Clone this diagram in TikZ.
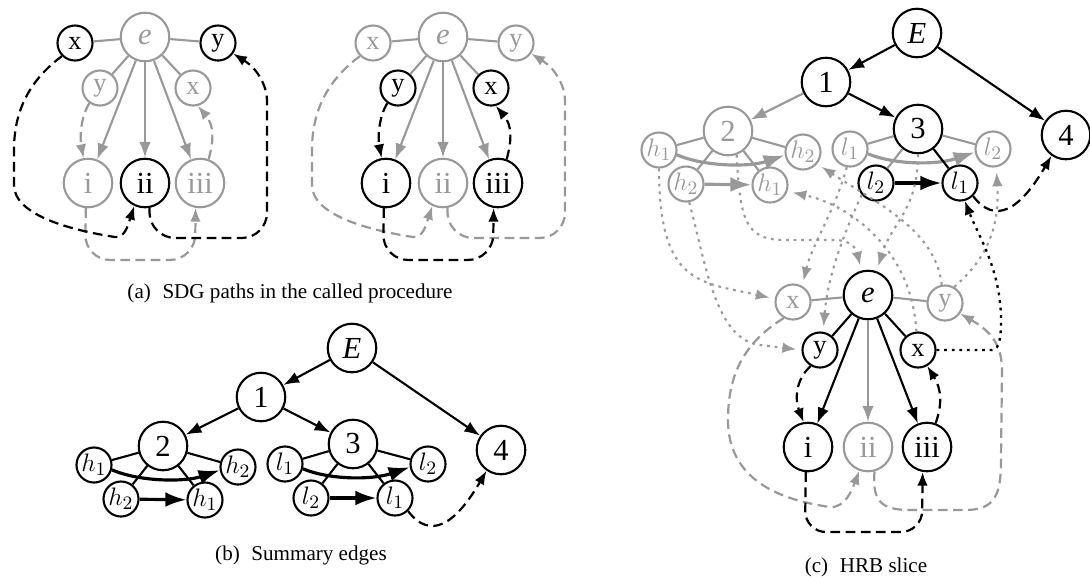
\documentclass[tikz,border=0pt]{standalone}
\usepackage{fontspec}
\setmainfont{Liberation Serif}
\usetikzlibrary{arrows.meta}
\definecolor{dimmed}{gray}{0.6}

\begin{document}
\begin{tikzpicture}[x=0.474pt, y=-0.474pt,
		bignode/.style={circle, draw, line width=1pt, minimum size=23pt, inner sep=0pt, font=\fontsize{14.5}{16}\selectfont},
		smallnode/.style={circle, draw, line width=1pt, minimum size=16.6pt, inner sep=0pt, font=\fontsize{12.5}{14}\selectfont},
		faded/.style={draw=dimmed, text=dimmed},
		depedge/.style={line width=1pt, -{Latex[length=7.5pt, width=5.5pt]}},
		tie/.style={line width=1pt},
		summary/.style={line width=1.5pt, -{Latex[length=10pt, width=7pt]}},
		flowedge/.style={line width=1.05pt, dash pattern=on 4.6pt off 2.6pt, -{Latex[length=6.5pt, width=5pt]}},
		paramedge/.style={line width=1pt, dash pattern=on 1.3pt off 2.3pt, shorten >=2.5pt, -{Latex[length=6.5pt, width=5pt]}},
		capt/.style={font=\normalsize}]

		\useasboundingbox (0,0) rectangle (1090,577);

		% (a) left copy
		\node[bignode, faded] (eL) at (145,37) {\textit{e}};
		\node[smallnode] (xinL) at (75,43) {x};
		\node[smallnode] (youtL) at (218,43) {y};
		\node[smallnode, faded] (yinL) at (100,88) {y};
		\node[smallnode, faded] (xoutL) at (193,88) {x};
		\node[bignode, faded] (iL) at (88,183) {i};
		\node[bignode] (iiL) at (145,183) {ii};
		\node[bignode, faded] (iiiL) at (200,183) {iii};

		\foreach \n in {xinL, youtL, yinL, xoutL}
		\draw[tie, dimmed] (eL) -- (\n);
		\foreach \n in {iL, iiL, iiiL}
		\draw[depedge, dimmed] (eL) -- (\n);

		\draw[flowedge, dimmed] (yinL.235) .. controls (80,118) and (80,140) .. (iL.100);
		\draw[flowedge, dimmed] (iiiL.70) .. controls (214,140) and (214,125) .. (xoutL.-75);
		\draw[flowedge, dimmed, rounded corners=12] (iL.-95) -- (85,260) -- (195,260) -- (iiiL.-100);
		\draw[flowedge] (xinL.225) .. controls (30,80) and (14,110) .. (14,150) -- (14,185) .. controls (14,215) and (70,230) .. (115,237) .. controls (125,238) and (128,225) .. (iiL.245);
		\draw[flowedge, rounded corners=12] (iiL.-80) -- (150,238) -- (267,238) -- (267,75) -- (youtL.-35);

		% (a) right copy
		\begin{scope}[shift={(298,0)}]
			\node[bignode, faded] (eR) at (145,37) {\textit{e}};
			\node[smallnode, faded] (xinR) at (75,43) {x};
			\node[smallnode, faded] (youtR) at (218,43) {y};
			\node[smallnode] (yinR) at (100,88) {y};
			\node[smallnode] (xoutR) at (193,88) {x};
			\node[bignode] (iR) at (88,183) {i};
			\node[bignode, faded] (iiR) at (145,183) {ii};
			\node[bignode] (iiiR) at (200,183) {iii};

			\foreach \n in {xinR, youtR, yinR, xoutR}
			\draw[tie, dimmed] (eR) -- (\n);
			\foreach \n in {iR, iiR, iiiR}
			\draw[depedge, dimmed] (eR) -- (\n);

			\draw[flowedge, dimmed] (xinR.225) .. controls (30,80) and (14,110) .. (14,150) -- (14,185) .. controls (14,215) and (70,230) .. (115,237) .. controls (125,238) and (128,225) .. (iiR.245);
			\draw[flowedge, dimmed, rounded corners=12] (iiR.-80) -- (150,238) -- (267,238) -- (267,75) -- (youtR.-35);
			\draw[flowedge] (yinR.235) .. controls (80,118) and (80,140) .. (iR.100);
			\draw[flowedge] (iiiR.70) .. controls (214,140) and (214,125) .. (xoutR.-75);
			\draw[flowedge, rounded corners=12] (iR.-95) -- (85,260) -- (195,260) -- (iiiR.-100);
		\end{scope}

		% (b)
		\node[bignode] (Eb) at (352,348) {\textit{E}};
		\node[bignode] (n1b) at (261,397) {1};
		\node[bignode] (n2b) at (163,446) {2};
		\node[bignode] (n3b) at (353,444) {3};
		\node[bignode] (n4b) at (501,450) {4};
		\node[smallnode] (h1ib) at (94,465) {$h_1$};
		\node[smallnode] (h2ob) at (238,467) {$h_2$};
		\node[smallnode] (h2ib) at (121,499) {$h_2$};
		\node[smallnode] (h1ob) at (205,500) {$h_1$};
		\node[smallnode] (l1ib) at (285,464) {$l_1$};
		\node[smallnode] (l2ob) at (428,464) {$l_2$};
		\node[smallnode] (l2ib) at (311,498) {$l_2$};
		\node[smallnode] (l1ob) at (395,498) {$l_1$};

		\draw[depedge] (Eb) -- (n1b);
		\draw[depedge] (Eb) -- (n4b);
		\draw[depedge] (n1b) -- (n2b);
		\draw[depedge] (n1b) -- (n3b);
		\foreach \n in {h1ib, h2ob, h2ib, h1ob}
		\draw[tie] (n2b) -- (\n);
		\foreach \n in {l1ib, l2ob, l2ib, l1ob}
		\draw[tie] (n3b) -- (\n);
		\draw[summary] (h1ib.-15) .. controls (140,482) and (185,482) .. (h2ob.190);
		\draw[summary] (h2ib) -- (h1ob);
		\draw[summary] (l1ib.-15) .. controls (330,480) and (372,480) .. (l2ob.190);
		\draw[summary] (l2ib) -- (l1ob);
		\draw[flowedge] (l1ob.-45) .. controls (430,540) and (455,525) .. (n4b.235);

		% (c) upper part
		\begin{scope}[shift={(565,-315)}]
			\node[bignode] (Ec) at (352,348) {\textit{E}};
			\node[bignode] (n1c) at (261,397) {1};
			\node[bignode, faded] (n2c) at (163,446) {2};
			\node[bignode] (n3c) at (353,444) {3};
			\node[bignode] (n4c) at (501,450) {4};
			\node[smallnode, faded] (h1ic) at (94,465) {$h_1$};
			\node[smallnode, faded] (h2oc) at (238,467) {$h_2$};
			\node[smallnode, faded] (h2ic) at (121,499) {$h_2$};
			\node[smallnode, faded] (h1oc) at (205,500) {$h_1$};
			\node[smallnode, faded] (l1ic) at (285,464) {$l_1$};
			\node[smallnode, faded] (l2oc) at (428,464) {$l_2$};
			\node[smallnode] (l2ic) at (311,498) {$l_2$};
			\node[smallnode] (l1oc) at (395,498) {$l_1$};

			\draw[depedge, dimmed] (n1c) -- (n2c);
			\foreach \n in {h1ic, h2oc, h2ic, h1oc}
			\draw[tie, dimmed] (n2c) -- (\n);
			\foreach \n in {l1ic, l2oc, l2ic}
			\draw[tie, dimmed] (n3c) -- (\n);
			\draw[summary, dimmed] (h1ic.-15) .. controls (140,482) and (185,482) .. (h2oc.190);
			\draw[summary, dimmed] (h2ic) -- (h1oc);
			\draw[summary, dimmed] (l1ic.-15) .. controls (330,480) and (372,480) .. (l2oc.190);
			\draw[depedge] (Ec) -- (n1c);
			\draw[depedge] (Ec) -- (n4c);
			\draw[depedge] (n1c) -- (n3c);
			\draw[tie] (n3c) -- (l1oc);
			\draw[summary] (l2ic) -- (l1oc);
			\draw[flowedge] (l1oc.-45) .. controls (430,540) and (455,525) .. (n4c.235);
		\end{scope}

		% (c) called procedure
		\node[bignode] (ec) at (868,295) {\textit{e}};
		\node[smallnode, faded] (xinc) at (793,302) {x};
		\node[smallnode, faded] (youtc) at (945,303) {y};
		\node[smallnode] (yinc) at (820,350) {y};
		\node[smallnode] (xoutc) at (918,350) {x};
		\node[bignode] (ic) at (808,447) {i};
		\node[bignode, faded] (iic) at (868,447) {ii};
		\node[bignode] (iiic) at (927,447) {iii};

		\draw[tie, dimmed] (ec) -- (xinc);
		\draw[tie, dimmed] (ec) -- (youtc);
		\draw[depedge, dimmed] (ec) -- (iic);

		\draw[paramedge, dimmed] (n2c.-70) .. controls (740,220) and (745,240) .. (785,240) -- (835,240) .. controls (850,240) and (856,248) .. (ec.105);
		\draw[paramedge, dimmed] (n3c.-90) .. controls (918,210) and (892,222) .. (ec.70);
		\draw[paramedge, dimmed] (h1ic.-90) .. controls (659,285) and (700,282) .. (xinc.170);
		\draw[paramedge, dimmed] (h2ic.-80) .. controls (705,260) and (715,340) .. (760,345) -- (yinc.180);
		\draw[paramedge, dimmed] (l1ic.-100) .. controls (835,210) and (812,245) .. (xinc.60);
		\draw[paramedge, dimmed] (l2ic.220) .. controls (850,220) and (828,270) .. (yinc.80);
		\draw[paramedge, dimmed] (youtc.100) .. controls (935,230) and (880,205) .. (h2oc.-40);
		\draw[paramedge, dimmed] (youtc.60) .. controls (985,260) and (1000,230) .. (l2oc.-80);
		\draw[paramedge, dimmed] (xoutc.95) .. controls (912,250) and (850,205) .. (h1oc.-20);

		\draw[flowedge, dimmed] (xinc.240) .. controls (740,345) and (728,380) .. (728,420) .. controls (728,480) and (780,500) .. (830,507) .. controls (845,508) and (852,490) .. (iic.250);
		\draw[flowedge, dimmed] (iic.-75) .. controls (872,500) and (880,510) .. (910,510) -- (965,510) .. controls (995,510) and (1001,495) .. (1001,460) -- (1002,370) .. controls (1002,340) and (985,328) .. (youtc.-35);

		\draw[tie] (ec) -- (yinc);
		\draw[tie] (ec) -- (xoutc);
		\draw[depedge] (ec) -- (ic);
		\draw[depedge] (ec) -- (iiic);
		\draw[paramedge, line width=1.1pt, shorten >=0pt] (xoutc.east) -- (992,350) .. controls (1000,350) and (1001,335) .. (1001,320) .. controls (1001,270) and (978,235) .. (l1oc.-75);
		\draw[flowedge] (yinc.240) .. controls (795,380) and (795,400) .. (ic.100);
		\draw[flowedge] (iiic.70) .. controls (942,405) and (942,390) .. (xoutc.-60);
		\draw[flowedge, rounded corners=10] (ic.-95) -- (805,532) -- (922,532) -- (iiic.-100);

		% captions
		\node[capt] (capa) at (290,293) {(a)\hspace{0.55em}SDG paths in the called procedure};
		\node[capt] (capb) at (301,555) {(b)\hspace{0.55em}Summary edges};
		\node[capt] (capc) at (866,567) {(c)\hspace{0.55em}HRB slice};
	\end{tikzpicture}
\end{document}
